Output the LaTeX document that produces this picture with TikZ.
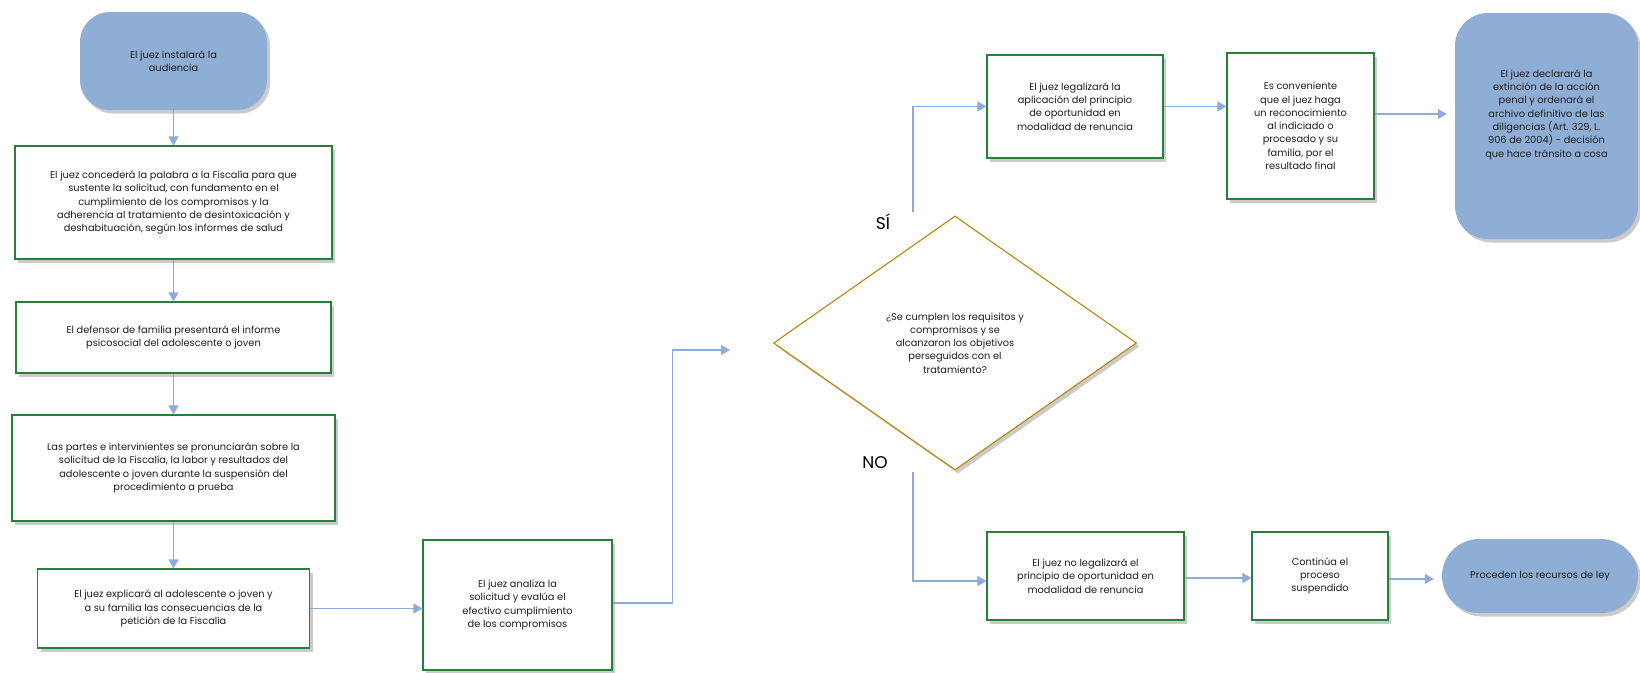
\documentclass[tikz,border=0pt]{standalone}
\usepackage{fontspec}
\setmainfont{Poppins}
\usetikzlibrary{shapes.geometric,arrows.meta,shadows,calc}
\definecolor{bluefill}{RGB}{143,174,214}
\definecolor{boxgreen}{RGB}{38,128,58}
\definecolor{conn}{RGB}{142,172,216}
\definecolor{gold}{RGB}{184,134,11}
\definecolor{txt}{RGB}{30,30,30}
\begin{document}
\begin{tikzpicture}[x=1pt,y=-1pt,
  every node/.style={font=\fontsize{9.8}{13.3}\selectfont, text=txt, align=center, inner sep=2pt},
  shad/.style={drop shadow={shadow xshift=3pt,shadow yshift=-3.5pt,fill=black!45,opacity=.45}},
  gbox/.style={draw=boxgreen, line width=1.1pt, fill=white, shad},
  bbox/.style={fill=bluefill, shad},
  dbox/.style={diamond, draw=gold, line width=1.1pt, fill=white, shad, inner sep=0pt},
  conn/.style={draw=conn, line width=1.2pt, -{Triangle[length=9pt,width=10pt]}},
  lbl/.style={font=\fontsize{17}{20}\selectfont, text=black}
]
\useasboundingbox (0,0) rectangle (1640,672);
\fill[white] (0,0) rectangle (1640,672);

\node[bbox, rounded corners=30pt, minimum width=187pt, minimum height=98pt] (st) at (173.5,61) {El juez instalará la\\audiencia};
\node[gbox, minimum width=317pt, minimum height=113pt] (b2) at (173.5,202.5) {El juez concederá la palabra a la Fiscalía para que\\sustente la solicitud, con fundamento en el\\cumplimiento de los compromisos y la\\adherencia al tratamiento de desintoxicación y\\deshabituación, según los informes de salud};
\node[gbox, minimum width=315pt, minimum height=71pt] (b3) at (173.5,337.5) {El defensor de familia presentará el informe\\psicosocial del adolescente o joven};
\node[gbox, minimum width=323pt, minimum height=106pt] (b4) at (173.5,468) {Las partes e intervinientes se pronunciarán sobre la\\solicitud de la Fiscalía, la labor y resultados del\\adolescente o joven durante la suspensión del\\procedimiento a prueba};
\node[gbox, minimum width=272pt, minimum height=79pt] (b5) at (173.5,608.5) {El juez explicará al adolescente o joven y\\a su familia las consecuencias de la\\petición de la Fiscalía};
\node[gbox, minimum width=189pt, minimum height=130pt] (b6) at (517.5,605) {El juez analiza la\\solicitud y evalúa el\\efectivo cumplimiento\\de los compromisos};

\node[dbox, minimum width=363pt, minimum height=254pt] (d) at (955,343) {¿Se cumplen los requisitos y\\compromisos y se\\alcanzaron los objetivos\\perseguidos con el\\tratamiento?};
\node[lbl] (si) at (883,222) {SÍ};
\node[lbl] (no) at (875,463) {NO};

\node[gbox, minimum width=176pt, minimum height=103pt] (b7) at (1075,106.5) {El juez legalizará la\\aplicación del principio\\de oportunidad en\\modalidad de renuncia};
\node[gbox, minimum width=147pt, minimum height=146pt] (b8) at (1300.5,126) {Es conveniente\\que el juez haga\\un reconocimiento\\al indiciado o\\procesado y su\\familia, por el\\resultado final};
\node[bbox, rounded corners=33pt, minimum width=183pt, minimum height=226pt] (b9) at (1546.5,126) {El juez declarará la\\extinción de la acción\\penal y ordenará el\\archivo definitivo de las\\diligencias (Art. 329, L.\\906 de 2004) - decisión\\que hace tránsito a cosa\\[12pt]};

\node[gbox, minimum width=197pt, minimum height=88pt] (b10) at (1085.5,576) {El juez no legalizará el\\principio de oportunidad en\\modalidad de renuncia};
\node[gbox, minimum width=136pt, minimum height=88pt] (b11) at (1320,576) {Continúa el\\proceso\\suspendido};
\node[bbox, rounded corners=37pt, minimum width=196pt, minimum height=74pt] (b12) at (1540,576) {Proceden los recursos de ley};

\coordinate (c1) at (730,350);
\coordinate (ys) at (913,212);
\coordinate (ns) at (913,472);

\draw[conn] (st.south) -- (b2.north);
\draw[conn] (b2.south) -- (b3.north);
\draw[conn] (b3.south) -- (b4.north);
\draw[conn] (b4.south) -- (b5.north);
\draw[conn] (b5.east) -- (b5.east -| b6.west);
\draw[conn] ([yshift=2pt]b6.east) -- ++(60,0) |- (c1);
\draw[conn] (ys) |- (b7.west);
\draw[conn] (ns) |- ([yshift=-5pt]b10.west);
\draw[conn] (b7.east) -- (b7.east -| b8.west);
\draw[conn, shorten >=8pt] ([yshift=12pt]b8.east) -- ([yshift=12pt]b8.east -| b9.west);
\draw[conn] ([yshift=-2pt]b10.east) -- ([yshift=-2pt]b10.east -| b11.west);
\draw[conn, shorten >=8pt] ([yshift=-3pt]b11.east) -- ([yshift=-3pt]b11.east -| b12.west);
\end{tikzpicture}
\end{document}
